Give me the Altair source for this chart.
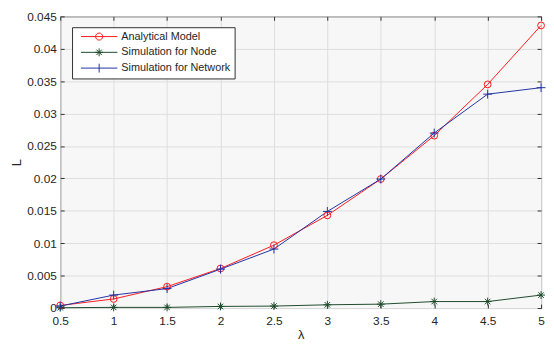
import altair as alt
import pandas as pd

# ---- data ----
lam = [0.5, 1.0, 1.5, 2.0, 2.5, 3.0, 3.5, 4.0, 4.5, 5.0]
analytical = [0.0004, 0.0014, 0.0033, 0.0061, 0.0097, 0.0143, 0.0199, 0.0266, 0.0345, 0.0436]
node = [0.00005, 0.0001, 0.0001, 0.00025, 0.0003, 0.0005, 0.0006, 0.001, 0.001, 0.002]
network = [0.0003, 0.002, 0.003, 0.006, 0.0091, 0.0149, 0.0199, 0.027, 0.033, 0.034]

series_names = ["Analytical Model", "Simulation for Node", "Simulation for Network"]
colors = ["#ff1a1a", "#1d4a2c", "#2233a8"]

x_ticks = [0.5, 1.0, 1.5, 2.0, 2.5, 3.0, 3.5, 4.0, 4.5, 5.0]
y_ticks = [0, 0.005, 0.01, 0.015, 0.02, 0.025, 0.03, 0.035, 0.04, 0.045]

rows = []
for name, vals in zip(series_names, [analytical, node, network]):
    for l, v in zip(lam, vals):
        rows.append({"lam": l, "L": v, "series": name})
df = pd.DataFrame(rows)

W, H = 488, 296
FONT = "Liberation Sans"
TXT = "#262626"

xs = alt.Scale(domain=[0.5, 5], nice=False, zero=False)
ys = alt.Scale(domain=[0, 0.045], nice=False)

# marker shapes (custom paths)
aster_p = "M-1,0H1M0,-1V1M-0.7,-0.7L0.7,0.7M-0.7,0.7L0.7,-0.7"
plus_p = "M-1,0H1M0,-1V1"

# legend symbols: line with marker in the middle (unit = 5px)
def leg_path(marker):
    x0, x1 = -0.1, 7.3
    cx = (x0 + x1) / 2
    base = f"M{x0},0H{x1}"
    if marker == "circle":
        r = 0.72
        return base + f"M{cx - r},0A{r},{r} 0 1,0 {cx + r},0A{r},{r} 0 1,0 {cx - r},0"
    if marker == "aster":
        a, d = 0.8, 0.56
        return base + (f"M{cx - a},0H{cx + a}M{cx},-{a}V{a}"
                       f"M{cx - d},-{d}L{cx + d},{d}M{cx - d},{d}L{cx + d},-{d}")
    a = 0.9
    return base + f"M{cx},-{a}V{a}"

leg_paths = [leg_path("circle"), leg_path("aster"), leg_path("plus")]

# axes
ax_x_main = alt.Axis(orient="bottom", values=x_ticks, format="~g", title="λ", ticks=False,
                     grid=True, domain=False, labelPadding=8, titlePadding=2, labelFlush=False)
ax_y_main = alt.Axis(orient="left", values=y_ticks, format="~g", title="L", ticks=False,
                     grid=True, domain=False, labelPadding=4, titlePadding=3, labelFlush=False)
tick_common = dict(labels=False, ticks=True, tickSize=4, domain=False, grid=False, title="")
ax_x_in_bottom = alt.Axis(orient="top", offset=-H, values=x_ticks, **tick_common)
ax_x_in_top = alt.Axis(orient="bottom", offset=-H, values=x_ticks, **tick_common)
ax_y_in_left = alt.Axis(orient="right", offset=-W, values=y_ticks, **tick_common)
ax_y_in_right = alt.Axis(orient="left", offset=-W, values=y_ticks, **tick_common)

base = alt.Chart(df)

def sel(name):
    return base.transform_filter(alt.datum.series == name)

line_a = sel(series_names[0]).mark_line(color=colors[0], strokeWidth=1).encode(
    x=alt.X("lam:Q", scale=xs, axis=ax_x_main), y=alt.Y("L:Q", scale=ys, axis=ax_y_main))
line_n = sel(series_names[1]).mark_line(color=colors[1], strokeWidth=1).encode(
    x=alt.X("lam:Q", scale=xs, axis=ax_x_in_bottom), y=alt.Y("L:Q", scale=ys, axis=ax_y_in_left))
line_w = sel(series_names[2]).mark_line(color=colors[2], strokeWidth=1).encode(
    x=alt.X("lam:Q", scale=xs, axis=ax_x_in_top), y=alt.Y("L:Q", scale=ys, axis=ax_y_in_right))

pt_a = sel(series_names[0]).mark_point(shape="circle", size=48, filled=False, color=colors[0],
                                       strokeWidth=1, opacity=1).encode(
    x=alt.X("lam:Q", scale=xs, axis=None), y=alt.Y("L:Q", scale=ys, axis=None))
pt_n = sel(series_names[1]).mark_point(shape=aster_p, size=64, filled=False, color=colors[1],
                                       strokeWidth=1, opacity=1).encode(
    x=alt.X("lam:Q", scale=xs, axis=None), y=alt.Y("L:Q", scale=ys, axis=None))
pt_w = sel(series_names[2]).mark_point(shape=plus_p, size=81, filled=False, color=colors[2],
                                       strokeWidth=1, opacity=1).encode(
    x=alt.X("lam:Q", scale=xs, axis=None), y=alt.Y("L:Q", scale=ys, axis=None))

legend = alt.Legend(orient="none", legendX=12, legendY=11, title=None, symbolSize=100,
                    symbolStrokeWidth=1, symbolOpacity=1, symbolFillColor="transparent",
                    labelOffset=35, labelFont=FONT, labelFontSize=11, labelColor=TXT,
                    strokeColor="#303030", fillColor="white", padding=4, rowPadding=3,
                    labelLimit=300)

leg_layer = base.mark_point(filled=False, opacity=0, strokeWidth=1).encode(
    x=alt.X("lam:Q", scale=xs, axis=None), y=alt.Y("L:Q", scale=ys, axis=None),
    color=alt.Color("series:N", scale=alt.Scale(domain=series_names, range=colors), legend=legend),
    shape=alt.Shape("series:N", scale=alt.Scale(domain=series_names, range=leg_paths), legend=legend),
)

chart = alt.layer(line_a, line_n, line_w, pt_a, pt_n, pt_w, leg_layer).resolve_axis(
    x="independent", y="independent"
).properties(
    width=W, height=H,
    autosize=alt.AutoSizeParams(type="none"),
    padding={"left": 53, "top": 6, "right": 5, "bottom": 34},
    background="white",
).configure_view(
    fill="#f7f7f7", stroke="#333333", strokeWidth=1
).configure_axis(
    labelFont=FONT, labelFontSize=12, labelColor=TXT, titleFont=FONT, titleFontSize=13,
    titleFontWeight="normal", titleColor=TXT, gridColor="#dddddd", gridWidth=1,
    tickColor="#333333", tickWidth=1
)

chart.save("out.html", embed_options={"renderer": "svg", "actions": False})
